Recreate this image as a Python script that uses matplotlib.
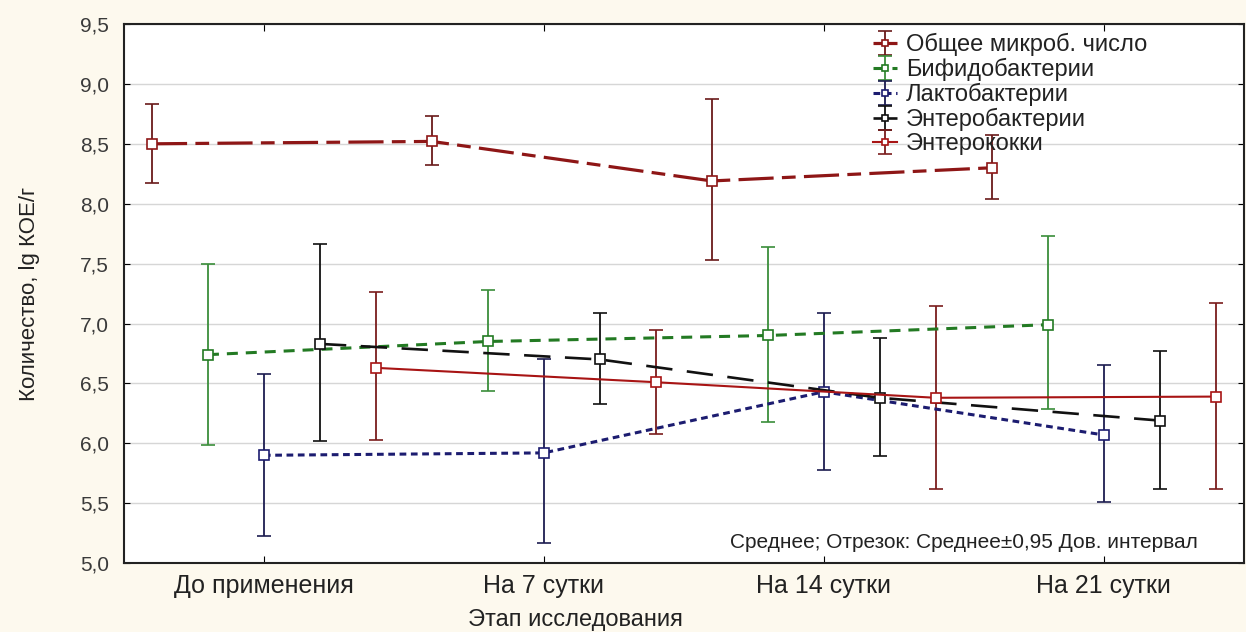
import matplotlib
matplotlib.use("Agg")
import matplotlib.pyplot as plt
import numpy as np

# Этапы исследования
stages = ["До применения", "На 7 сутки", "На 14 сутки", "На 21 сутки"]

# Средние и границы 95% доверительного интервала (lg КОЕ/г)
total_mean = [8.50, 8.52, 8.19, 8.30]
total_hi = [8.83, 8.73, 8.87, 8.57]
total_lo = [8.17, 8.32, 7.53, 8.04]

bifido_mean = [6.74, 6.85, 6.90, 6.99]
bifido_hi = [7.50, 7.28, 7.64, 7.73]
bifido_lo = [5.99, 6.44, 6.18, 6.29]

lacto_mean = [5.90, 5.92, 6.43, 6.07]
lacto_hi = [6.58, 6.70, 7.09, 6.65]
lacto_lo = [5.23, 5.17, 5.78, 5.51]

entero_mean = [6.83, 6.70, 6.38, 6.19]
entero_hi = [7.66, 7.09, 6.88, 6.77]
entero_lo = [6.02, 6.33, 5.89, 5.62]

coccus_mean = [6.63, 6.51, 6.38, 6.39]
coccus_hi = [7.26, 6.95, 7.15, 7.17]
coccus_lo = [6.03, 6.08, 5.62, 5.62]

names = ["Общее микроб. число", "Бифидобактерии", "Лактобактерии",
         "Энтеробактерии", "Энтерококки"]

plt.rcParams['font.family'] = ['Liberation Sans', 'DejaVu Sans']

fig = plt.figure(figsize=(12.46, 6.32), dpi=100, facecolor='#fdf9ee')
ax = fig.add_axes([0.0995, 0.109, 0.8985, 0.853])
ax.set_facecolor('white')

x = np.arange(len(stages))
series = [
    (total_mean, total_lo, total_hi, -0.4, '#8e1616', '#6a1a1a', (0, (11, 2.6, 4.3, 2.6)), 2.3),
    (bifido_mean, bifido_lo, bifido_hi, -0.2, '#237a23', '#3a8e3a', (0, (3.6, 2.6)), 2.2),
    (lacto_mean, lacto_lo, lacto_hi, 0.0, '#1c1c70', '#1c1c50', (0, (2.2, 1.5)), 2.2),
    (entero_mean, entero_lo, entero_hi, 0.2, '#111111', '#111111', (0, (10, 5.5)), 1.9),
    (coccus_mean, coccus_lo, coccus_hi, 0.4, '#a81414', '#7a1c1c', '-', 1.5),
]

for (m, lo, hi, off, col, ecol, ls, lw), name in zip(series, names):
    m = np.array(m)
    yerr = [m - np.array(lo), np.array(hi) - m]
    ax.errorbar(x + off, m, yerr=yerr, marker='s', markersize=7,
                markerfacecolor='white', markeredgecolor=col, markeredgewidth=1.2,
                color=col, linestyle=ls, linewidth=lw, ecolor=ecol,
                elinewidth=1.3, capsize=5, capthick=1.3, label=name, zorder=3)

ax.set_xlim(-0.5, 3.5)
ax.set_ylim(5.0, 9.5)
ax.set_yticks(np.arange(5.0, 9.51, 0.5))
ax.set_yticklabels([f"{v:.1f}".replace('.', ',') for v in np.arange(5.0, 9.51, 0.5)])
ax.set_xticks(x)
ax.set_xticklabels(stages)

ax.grid(axis='y', color='#d6d6d6', linewidth=1.0)
ax.set_axisbelow(True)
ax.tick_params(axis='y', direction='in', length=4, right=True, labelsize=15,
               pad=11, labelcolor='#3a3a3a')
ax.tick_params(axis='x', direction='in', length=5, top=True, labelsize=18,
               pad=8, labelcolor='#222222')
for s in ax.spines.values():
    s.set_linewidth(1.5)
    s.set_color('#222222')

ax.set_xlabel("Этап исследования", fontsize=17, color='#222222')
ax.xaxis.set_label_coords(0.403, -0.085)
ax.set_ylabel("Количество, lg КОЕ/г", fontsize=16, color='#222222',
              family=['Liberation Sans Narrow', 'Liberation Sans', 'DejaVu Sans'])
ax.yaxis.set_label_coords(-0.075, 0.5)

ax.text(0.959, 0.039, "Среднее; Отрезок: Среднее±0,95 Дов. интервал",
        transform=ax.transAxes, ha='right', va='center', fontsize=15, color='#222222')

leg = ax.legend(loc='upper left', bbox_to_anchor=(0.665, 0.992), frameon=False,
                fontsize=17, handlelength=1.0, handletextpad=0.4, markerscale=0.7,
                labelspacing=0.08, borderpad=0.2, borderaxespad=0)
for t in leg.get_texts():
    t.set_color('#222222')

fig.savefig("out.png", dpi=100, facecolor=fig.get_facecolor())
